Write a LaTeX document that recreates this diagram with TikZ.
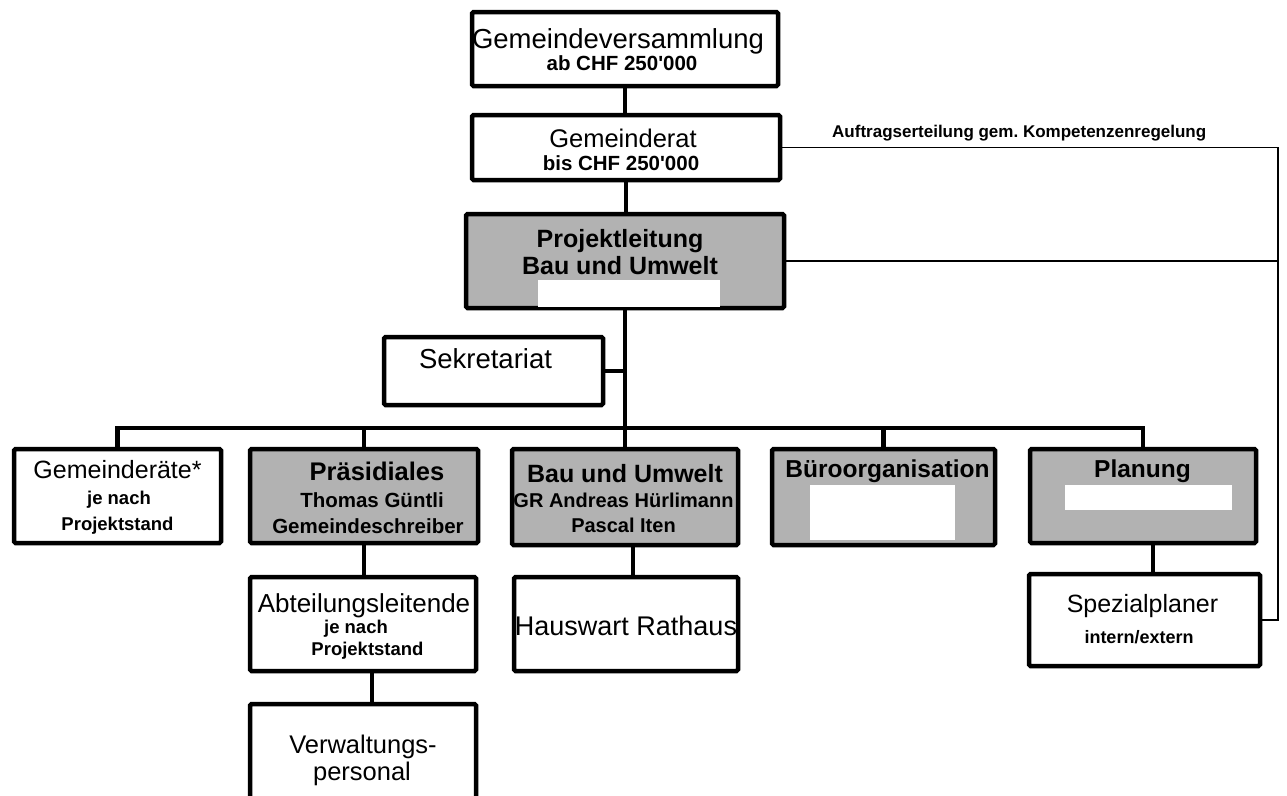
\documentclass[tikz,border=0pt]{standalone}
\usepackage{fontspec}
\setmainfont{Liberation Sans}
\usetikzlibrary{calc}
\frenchspacing
\newcommand\myfs[1]{\fontsize{#1}{#1}\selectfont}
\begin{document}
\begin{tikzpicture}[x=1pt,y=-1pt,
  box/.style={draw=black, line width=4.5pt, rounded corners=1.5pt, fill=white, inner sep=0pt},
  stip/.style={box, fill=black!30},
  conn/.style={draw=black, line width=4.5pt},
  thinln/.style={draw=black, line width=1.8pt},
  t/.style={anchor=base, inner sep=0pt},
  big/.style={font=\myfs{#1}},
  bsub/.style={font=\myfs{#1}\bfseries}]
\useasboundingbox (0,0) rectangle (1287,795);
\clip (0,0) rectangle (1287,795);
\coordinate (bus) at (0,428);
\coordinate (rx) at (1278,0);

% boxes
\node[box, minimum width=306pt, minimum height=74pt] (gv) at (625,49) {};
\node[box, minimum width=308pt, minimum height=65pt] (gr) at (626,147.5) {};
\node[stip, minimum width=318pt, minimum height=94pt] (pl) at (625,261) {};
\node[box, minimum width=219pt, minimum height=68pt] (sek) at (493.5,371) {};
\node[box, minimum width=207pt, minimum height=94pt] (gra) at (117.5,496) {};
\node[stip, minimum width=228pt, minimum height=94pt] (pra) at (364,496) {};
\node[stip, minimum width=226pt, minimum height=96pt] (bau) at (625,497) {};
\node[stip, minimum width=223pt, minimum height=96pt] (bur) at (883.5,497) {};
\node[stip, minimum width=226pt, minimum height=94pt] (pla) at (1143,496) {};
\node[box, minimum width=226pt, minimum height=94pt] (abt) at (363,624) {};
\node[box, minimum width=224pt, minimum height=94pt] (hau) at (626,624) {};
\node[box, minimum width=231pt, minimum height=92pt] (sp) at (1144.5,620) {};
\node[box, minimum width=226pt, minimum height=104pt] (vw) at (363,756) {};

% connectors
\draw[conn] (gv.south) -- (gv.south |- gr.north);
\draw[conn] (gr.south) -- (gr.south |- pl.north);
\draw[conn] (pl.south) -- (bau.north);
\draw[conn] (sek.east) -- (sek.east -| pl.south);
\draw[conn] (gra.north) |- (bus -| pla.north) -- (pla.north);
\draw[conn] (pra.north) -- (pra.north |- bus);
\draw[conn] (bur.north) -- (bur.north |- bus);
\draw[conn] (pra.south) -- (pra.south |- abt.north);
\draw[conn] ([xshift=9pt]abt.south) -- ([xshift=9pt]abt.south |- vw.north);
\draw[conn] ([xshift=8pt]bau.south) -- ([xshift=8pt]bau.south |- hau.north);
\draw[conn] ([xshift=10pt]pla.south) -- ([xshift=10pt]pla.south |- sp.north);
\draw[thinln] (gr.east) -| (rx |- sp.east) -- (sp.east);
\draw[thinln] (pl.east) -- (pl.east -| rx);
\node[t, anchor=base west, bsub=17] (auftrag) at (832,137) {Auftragserteilung gem. Kompetenzenregelung};

% texts
\node[t, big=27.5] (gv-a) at (618,48) {Gemeindeversammlung};
\node[t, bsub=20.5] (gv-b) at (622,70) {ab CHF 250\textquotesingle 000};
\node[t, big=25.5] (gr-a) at (623,147) {Gemeinderat};
\node[t, bsub=20.5] (gr-b) at (621,170) {bis CHF 250\textquotesingle 000};
\node[t, bsub=25] (pl-a) at (620,247) {Projektleitung};
\node[t, bsub=25] (pl-b) at (620,274) {Bau und Umwelt};
\node[t, big=27.5] (sek-a) at (485.5,368) {Sekretariat};
\node[t, big=25] (gra-a) at (117.5,478) {Gemeinderäte*};
\node[t, bsub=18.5] (gra-b) at (119,504) {je nach};
\node[t, bsub=18.5] (gra-c) at (117.5,530) {Projektstand};
\node[t, bsub=25.5] (pra-a) at (377,480) {Präsidiales};
\node[t, bsub=20.5] (pra-b) at (372,507) {Thomas Güntli};
\node[t, bsub=20.5] (pra-c) at (368,533) {Gemeindeschreiber};
\node[t, bsub=25] (bau-a) at (625,482) {Bau und Umwelt};
\node[t, bsub=20] (bau-b) at (623.5,507) {GR Andreas Hürlimann};
\node[t, bsub=20] (bau-c) at (623.5,532) {Pascal Iten};
\node[t, bsub=24.5] (bur-a) at (887.5,477) {Büroorganisation};
\node[t, bsub=24.5] (pla-a) at (1142.5,477) {Planung};
\node[t, big=26] (abt-a) at (364,612) {Abteilungsleitende};
\node[t, bsub=18.5] (abt-b) at (356,633) {je nach};
\node[t, bsub=18.5] (abt-c) at (367.5,655) {Projektstand};
\node[t, big=27] (hau-a) at (626,635) {Hauswart Rathaus};
\node[t, big=25] (sp-a) at (1142.5,612) {Spezialplaner};
\node[t, bsub=18] (sp-b) at (1139,643) {intern/extern};
\node[t, big=25.5] (vw-a) at (363,753) {Verwaltungs-};
\node[t, big=25.5] (vw-b) at (362,780) {personal};

% blanked areas
\fill[white] (538,280) rectangle (720,307);
\fill[white] (810,485) rectangle (955,540);
\fill[white] (1065,485) rectangle (1232,510);
\end{tikzpicture}
\end{document}
